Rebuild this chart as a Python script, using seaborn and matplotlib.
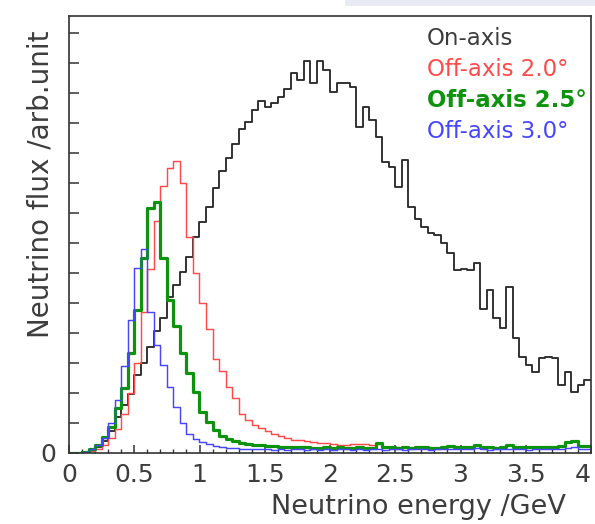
import numpy as np
import pandas as pd
import matplotlib
matplotlib.use("Agg")
import matplotlib.pyplot as plt
from matplotlib.ticker import MultipleLocator, FixedLocator
from matplotlib.patches import Rectangle
import seaborn as sns

# ---------------- data (flux per 0.05 GeV bin, arbitrary units) ----------------
energy_edges = [round(0.05 * i, 2) for i in range(81)]   # GeV bin edges
series_names = ["On-axis", "Off-axis 2.0°", "Off-axis 2.5°", "Off-axis 3.0°"]

on_axis = [0, 0, 0.02, 0.08, 0.2, 0.4, 0.75, 1.2, 1.6, 1.97,
           2.6, 3.0, 3.53, 4.08, 4.5, 5.2, 5.6, 6.05, 6.55, 7.2,
           7.7, 8.2, 8.85, 9.4, 9.85, 10.3, 10.8, 11.05, 11.45, 11.74,
           11.54, 11.68, 11.86, 12.12, 12.68, 12.43, 13.06, 12.32, 13.08, 12.77,
           12.04, 12.32, 12.32, 12.19, 10.88, 11.54, 11.1, 10.54, 9.71, 9.54,
           8.88, 9.77, 8.21, 7.8, 7.55, 7.35, 7.27, 6.99, 6.66, 6.1,
           6.14, 6.09, 6.34, 4.79, 5.43, 4.49, 4.16, 5.54, 3.82, 3.21,
           2.93, 2.71, 3.16, 3.19, 3.16, 2.27, 2.71, 2.04, 2.27, 2.43]

off_20 = [0, 0, 0.03, 0.07, 0.12, 0.27, 0.5, 0.8, 1.3, 2.0,
          3.0, 4.7, 6.15, 7.75, 8.9, 9.5, 9.72, 9.0, 7.2, 6.0,
          5.0, 4.15, 3.15, 2.75, 2.2, 1.85, 1.3, 1.1, 0.93, 0.82,
          0.72, 0.63, 0.57, 0.5, 0.45, 0.42, 0.39, 0.37, 0.34, 0.32,
          0.31, 0.28, 0.27, 0.3, 0.29, 0.29, 0.27, 0.3, 0.2, 0.19,
          0.18, 0.19, 0.18, 0.2, 0.19, 0.18, 0.17, 0.2, 0.23, 0.2,
          0.19, 0.2, 0.28, 0.2, 0.19, 0.18, 0.2, 0.28, 0.2, 0.19,
          0.19, 0.2, 0.21, 0.2, 0.19, 0.22, 0.38, 0.4, 0.24, 0.22]

off_25 = [0, 0, 0.04, 0.12, 0.27, 0.54, 0.88, 1.49, 2.16, 3.32,
          4.77, 6.49, 8.16, 8.38, 6.49, 5.1, 4.22, 3.32, 2.66, 2.04,
          1.38, 1.02, 0.77, 0.58, 0.48, 0.4, 0.35, 0.31, 0.28, 0.26,
          0.24, 0.22, 0.21, 0.2, 0.2, 0.19, 0.19, 0.18, 0.18, 0.19,
          0.18, 0.19, 0.18, 0.18, 0.19, 0.18, 0.18, 0.32, 0.2, 0.19,
          0.18, 0.19, 0.18, 0.2, 0.19, 0.18, 0.17, 0.2, 0.23, 0.2,
          0.19, 0.2, 0.28, 0.2, 0.19, 0.18, 0.2, 0.28, 0.2, 0.19,
          0.19, 0.2, 0.21, 0.2, 0.19, 0.22, 0.38, 0.4, 0.24, 0.22]

off_30 = [0, 0, 0.05, 0.12, 0.27, 0.49, 1.01, 1.77, 2.9, 4.43,
          6.16, 6.79, 4.71, 3.6, 2.93, 2.21, 1.54, 1.0, 0.65, 0.47,
          0.36, 0.3, 0.25, 0.21, 0.18, 0.16, 0.15, 0.14, 0.13, 0.12,
          0.12, 0.11, 0.12, 0.11, 0.12, 0.12, 0.11, 0.12, 0.11, 0.12,
          0.11, 0.12, 0.12, 0.11, 0.12, 0.11, 0.12, 0.12, 0.11, 0.12,
          0.12, 0.11, 0.12, 0.13, 0.12, 0.11, 0.12, 0.12, 0.14, 0.13,
          0.12, 0.12, 0.16, 0.12, 0.11, 0.12, 0.12, 0.13, 0.12, 0.12,
          0.11, 0.12, 0.13, 0.12, 0.12, 0.13, 0.16, 0.2, 0.14, 0.13]

x_tick_values = [0, 0.5, 1, 1.5, 2, 2.5, 3, 3.5, 4]
x_tick_labels = ["0", "0.5", "1", "1.5", "2", "2.5", "3", "3.5", "4"]

# ---------------- styling ----------------
colors = {"On-axis": "#2b2b2b", "Off-axis 2.0°": "#ff4a4a",
          "Off-axis 2.5°": "#0d930d", "Off-axis 3.0°": "#4646ff"}
widths = {"On-axis": 1.35, "Off-axis 2.0°": 1.05,
          "Off-axis 2.5°": 2.3, "Off-axis 3.0°": 1.05}
text_col = "#3d3d3d"

sns.set_theme(style="white")
plt.rcParams["font.family"] = ["DejaVu Sans"]

centers = [round(0.5 * (a + b), 3) for a, b in zip(energy_edges[:-1], energy_edges[1:])]
frames = []
for name, vals in zip(series_names, [on_axis, off_20, off_25, off_30]):
    frames.append(pd.DataFrame({"energy": centers, "flux": vals, "series": name}))
df = pd.concat(frames, ignore_index=True)

fig = plt.figure(figsize=(5.95, 5.24), dpi=100)
ax = fig.add_axes([69 / 595, 1 - 453 / 524, 522 / 595, 437.3 / 524])

for name in series_names:
    sub = df[df["series"] == name]
    sns.histplot(data=sub, x="energy", weights="flux", bins=list(energy_edges),
                 element="step", fill=False, color=colors[name],
                 linewidth=widths[name], ax=ax)

ax.set_xlim(0, 4)
ax.set_ylim(0, 14.58)

# ticks
ax.xaxis.set_major_locator(FixedLocator(x_tick_values))
ax.set_xticklabels(x_tick_labels)
ax.get_xticklabels()[-1].set_horizontalalignment("right")
ax.xaxis.set_minor_locator(MultipleLocator(0.1))
y_ticks = list(range(0, 15))
ax.yaxis.set_major_locator(FixedLocator(y_ticks))
ax.set_yticklabels(["0"] + [""] * (len(y_ticks) - 1))
ax.tick_params(axis="x", which="major", direction="in", length=5.5, width=1.1,
               color="#333333", labelsize=18, labelcolor=text_col, pad=7,
               top=False, bottom=True)
ax.tick_params(axis="x", which="minor", direction="in", length=3.2, width=1.0,
               color="#333333", top=False, bottom=True)
ax.tick_params(axis="y", which="major", direction="in", length=7.5, width=1.1,
               color="#333333", labelsize=18, labelcolor=text_col, pad=9,
               right=False, left=True)
ax.tick_params(axis="y", which="minor", left=False, right=False)

for sp in ax.spines.values():
    sp.set_color("#333333")
    sp.set_linewidth(1.2)

ax.set_xlabel("Neutrino energy /GeV", fontsize=19.5, color=text_col, loc="right")
ax.xaxis.set_label_coords((566 - 69) / 522, -0.094)
ax.set_ylabel("Neutrino flux /arb.unit", fontsize=20, color=text_col, loc="top")
ax.yaxis.set_label_coords(-0.028, (453 - 31) / 437.3)

# legend as coloured text lines
legend_y = [0.949, 0.876, 0.807, 0.735]
for name, yy in zip(series_names, legend_y):
    ax.text(0.685, yy, name, transform=ax.transAxes, fontsize=16.5,
            color=colors[name] if name != "On-axis" else text_col,
            fontweight="bold" if name == "Off-axis 2.5°" else "normal",
            ha="left", va="center")

# faint slide artefact at the top
fig.add_artist(Rectangle((0.58, 1 - 6 / 524), 0.42, 6 / 524,
                         transform=fig.transFigure, color="#e8ebf2", lw=0))

fig.savefig("out.png", dpi=100)
